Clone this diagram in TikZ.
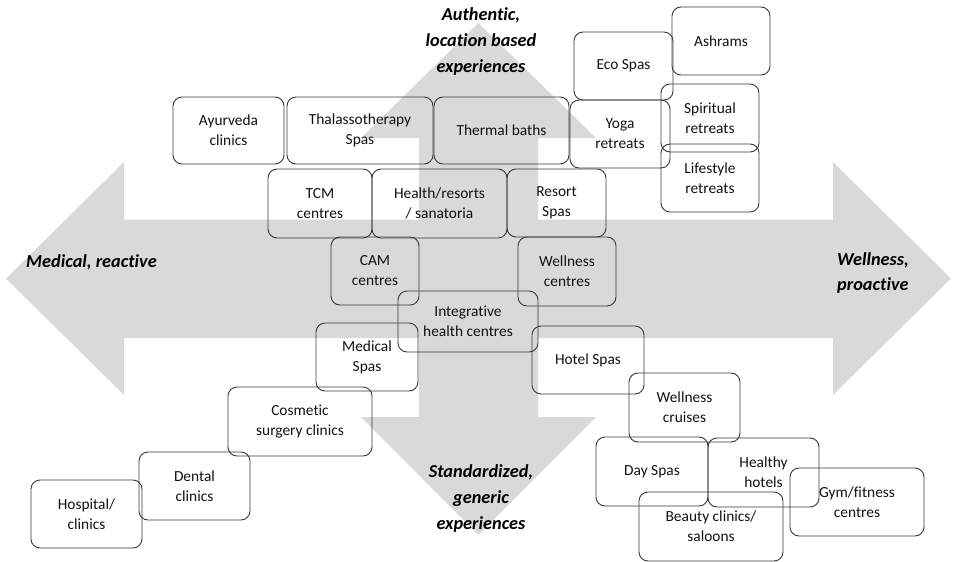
\documentclass[tikz,border=0pt]{standalone}
\usepackage{fontspec}
\setmainfont{Carlito}[Ligatures=NoCommon]
\definecolor{arrowgray}{HTML}{D9D9D9}
\definecolor{boxline}{HTML}{3A3A3A}
\definecolor{txt}{HTML}{111111}
\tikzset{
  box/.style={draw=boxline, line width=0.9pt, rounded corners=9pt, align=center,
    inner sep=0pt, text=txt, font=\fontsize{15.4}{20}\selectfont},
  axislabel/.style={align=center, inner sep=0pt, text=black,
    font=\fontsize{18.3}{25.7}\selectfont\bfseries\itshape},
  crossarrow/.style={fill=arrowgray, draw=none},
}
\begin{document}
\begin{tikzpicture}[x=1pt,y=-1pt]
\useasboundingbox (0,0) rectangle (954,562);
% four-way arrow
\fill[crossarrow] (6,278.5) -- (124,162) -- (124,219.5) -- (419,219.5) -- (419,138)
  -- (361,138) -- (478.5,23) -- (596,138) -- (538,138) -- (538,219.5)
  -- (833,219.5) -- (833,162) -- (951,278.5) -- (833,395) -- (833,338)
  -- (538,338) -- (538,417) -- (596,417) -- (478.5,535) -- (361,417)
  -- (419,417) -- (419,338) -- (124,338) -- (124,395) -- cycle;
% boxes
\node[box, minimum width=111pt, minimum height=67pt] (ayur) at (228.5,130.5) {Ayurveda\\clinics};
\node[box, minimum width=146pt, minimum height=67pt] (thal) at (360,130.5) {Thalassotherapy\\Spas};
\node[box, minimum width=135pt, minimum height=67pt] (therm) at (501.5,130.5) {Thermal baths};
\node[box, minimum width=99pt, minimum height=68pt] (eco) at (623.5,66) {Eco Spas};
\node[box, minimum width=98pt, minimum height=68pt] (ash) at (721,41) {Ashrams};
\node[box, minimum width=100pt, minimum height=68pt] (yoga) at (620,134) {Yoga\\retreats};
\node[box, minimum width=98pt, minimum height=68pt] (spir) at (710,118) {Spiritual\\retreats};
\node[box, minimum width=98pt, minimum height=68pt] (life) at (710,178) {Lifestyle\\retreats};
\node[box, minimum width=104pt, minimum height=69pt] (tcm) at (320,203.5) {TCM\\centres};
\node[box, minimum width=135pt, minimum height=69pt] (hres) at (439.5,203.5) {Health/resorts\\/ sanatoria};
\node[box, minimum width=99pt, minimum height=68pt] (rspa) at (556.5,203) {Resort\\Spas};
\node[box, minimum width=88pt, minimum height=68pt] (cam) at (375,271) {CAM\\centres};
\node[box, minimum width=98pt, minimum height=69pt] (wcen) at (567,271.5) {Wellness\\centres};
\node[box, minimum width=140pt, minimum height=61pt] (integ) at (468,321.5) {Integrative\\health centres};
\node[box, minimum width=102pt, minimum height=68pt] (mspa) at (367,357) {Medical\\Spas};
\node[box, minimum width=144pt, minimum height=69pt] (cosm) at (300,421.5) {Cosmetic\\surgery clinics};
\node[box, minimum width=111pt, minimum height=68pt] (dent) at (194.5,486) {Dental\\clinics};
\node[box, minimum width=111pt, minimum height=68pt] (hosp) at (86.5,514) {Hospital/\\clinics};
\node[box, minimum width=112pt, minimum height=68pt] (hspa) at (588,360) {Hotel Spas};
\node[box, minimum width=111pt, minimum height=69pt] (cruise) at (684.5,407.5) {Wellness\\cruises};
\node[box, minimum width=112pt, minimum height=69pt] (dspa) at (652,471.5) {Day Spas};
\node[box, minimum width=111pt, minimum height=69pt] (hhot) at (763.5,472.5) {Healthy\\hotels};
\node[box, minimum width=144pt, minimum height=69pt] (beauty) at (711,526.5) {Beauty clinics/\\saloons};
\node[box, minimum width=134pt, minimum height=68pt] (gym) at (857,502) {Gym/fitness\\centres};
% axis labels
\node[axislabel, anchor=west] (med) at (26,262) {Medical, reactive};
\node[axislabel, align=left, anchor=west, font=\fontsize{18.3}{25}\selectfont\bfseries\itshape] (well) at (837,273) {Wellness,\\proactive};
\node[axislabel] (auth) at (481,41.5) {Authentic,\\location based\\experiences};
\node[axislabel] (std) at (481,498.5) {Standardized,\\generic\\experiences};
\end{tikzpicture}
\end{document}
